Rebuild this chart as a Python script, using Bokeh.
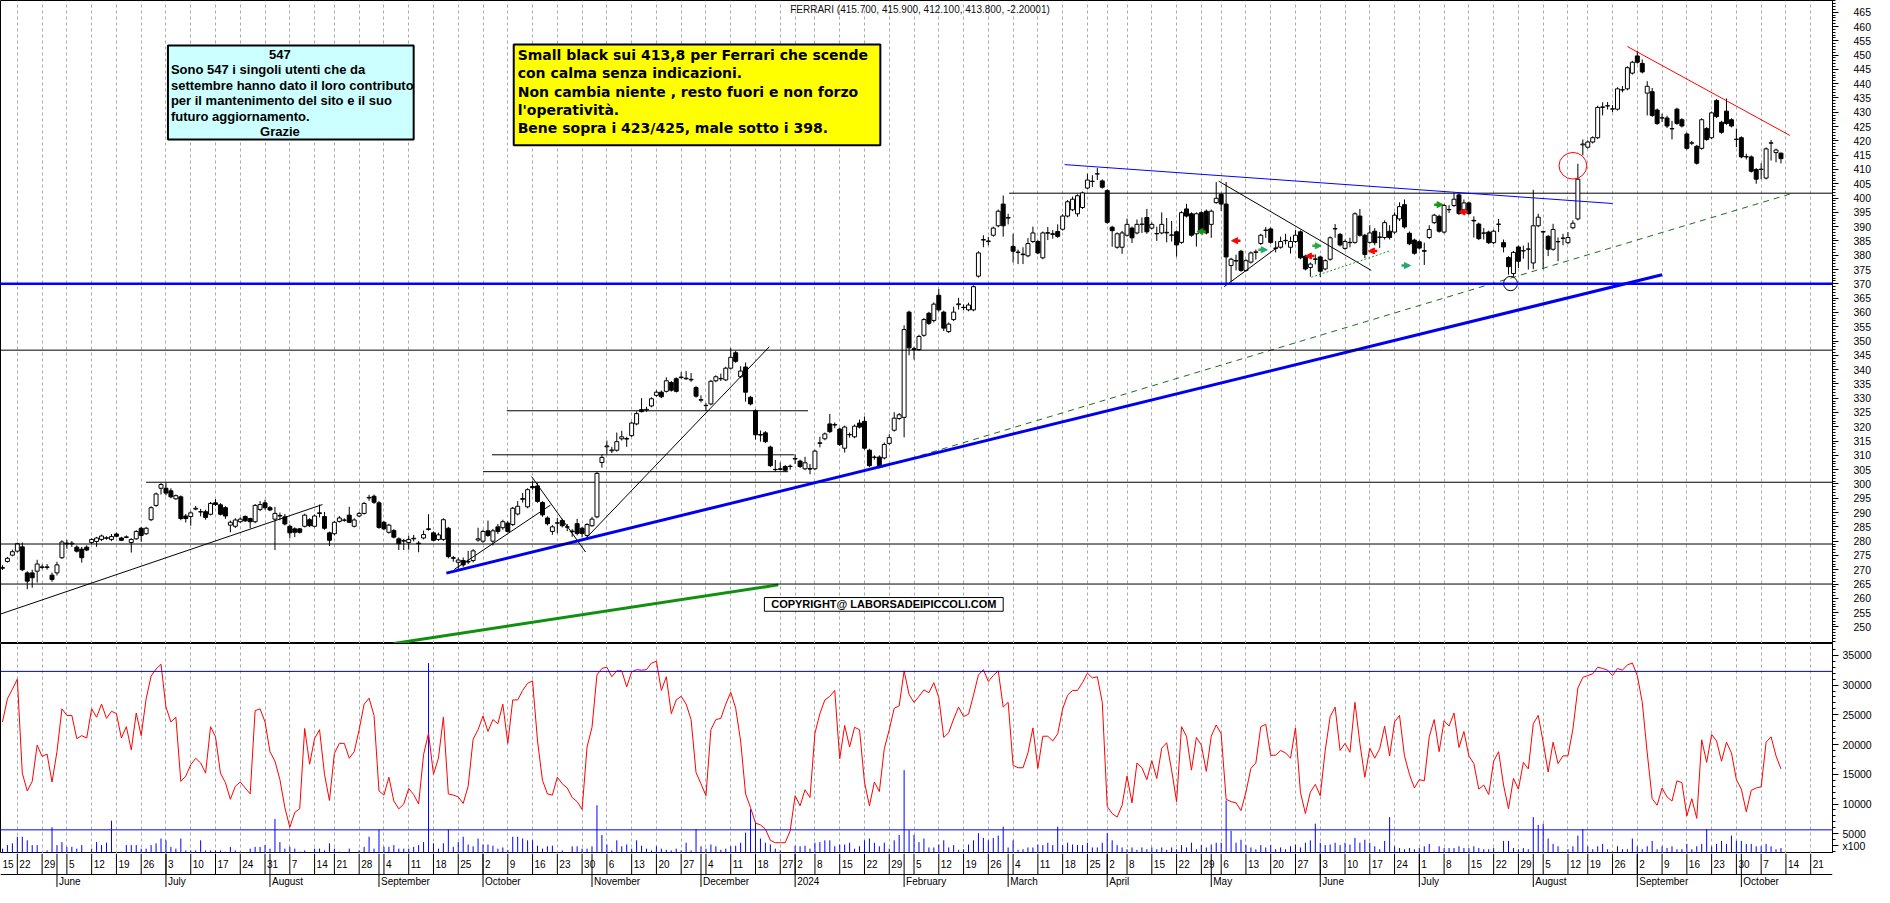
import numpy as np
import pandas as pd
from bokeh.plotting import figure
from bokeh.layouts import column
from bokeh.models import (Range1d, FixedTicker, Grid, Span, Arrow, NormalHead)
from bokeh.core.properties import value
from bokeh.embed import file_html
from bokeh.resources import INLINE

# ---------------------------------------------------------------- data
TITLE = "FERRARI (415.700, 415.900, 412.100, 413.800, -2.20001)"
FIRST_SESSION = "2023-05-15"
AXIS_LAST_DAY = "2024-11-08"
HOLIDAYS = ["2023-08-15", "2023-12-25", "2023-12-26", "2024-01-01",
            "2024-03-29", "2024-04-01", "2024-05-01", "2024-08-15"]
FIRST_CANDLE_SESSION = 2          # 17 May 2023 = third session on the axis

OPEN = [
 270.5,272.9,275.1,276.5,278.0,268.9,268.9,269.5,271.0,270.8,
 268.1,268.9,274.2,279.3,279.0,277.9,277.2,277.9,279.5,279.9,
 280.6,281.0,280.6,282.5,281.1,281.3,279.5,280.8,284.5,282.6,
 287.5,292.5,298.5,298.5,297.6,294.8,295.5,288.8,288.6,291.2,
 290.3,290.3,289.4,293.4,292.7,291.7,285.6,285.2,286.8,288.6,
 287.9,286.8,291.1,293.4,291.7,287.7,289.0,288.5,285.2,284.3,
 284.3,285.2,287.5,285.2,289.9,288.6,282.9,282.6,286.9,287.3,
 289.1,285.2,288.8,289.7,295.1,295.7,293.4,286.6,283.1,283.7,
 280.8,280.0,279.5,280.8,279.3,281.1,284.3,282.9,280.6,280.6,
 284.5,274.2,272.6,273.2,272.7,273.2,280.4,280.0,283.6,280.0,
 285.0,284.7,286.3,285.8,289.5,294.6,292.0,299.1,299.3,293.5,
 288.1,283.4,286.4,287.2,285.0,283.5,286.1,284.5,282.0,285.4,
 288.5,307.5,313.0,311.6,311.8,315.8,315.9,316.9,321.0,326.0,
 325.8,327.3,331.0,332.1,332.4,335.5,336.8,337.2,337.0,336.6,
 333.7,329.3,327.4,328.0,336.1,336.8,336.4,340.5,345.9,337.5,
 340.9,330.3,325.6,317.3,317.9,312.9,305.1,305.3,306.1,306.1,
 308.7,308.0,305.3,305.4,305.3,314.2,315.8,321.0,320.6,319.2,
 312.5,317.2,316.5,321.3,321.9,311.8,309.3,309.4,309.1,314.2,
 318.8,322.9,323.3,360.1,347.3,347.0,352.0,359.7,357.2,366.0,
 360.1,353.3,357.5,362.7,361.8,360.9,360.9,372.7,385.3,384.8,
 387.0,390.3,397.9,393.2,383.1,381.1,380.4,379.8,384.8,384.8,
 379.1,387.7,387.5,388.3,389.1,393.7,395.9,394.5,396.7,403.5,
 405.8,408.4,406.0,402.6,389.8,382.8,382.8,387.0,389.5,387.8,
 390.8,393.2,389.5,387.6,387.8,387.8,387.0,388.2,384.5,396.2,
 394.5,387.5,394.9,395.4,390.8,398.4,401.3,397.9,376.4,378.1,
 381.4,374.7,377.6,381.0,384.1,388.7,389.2,382.4,382.8,385.1,
 382.8,384.8,388.2,379.7,375.7,378.7,379.4,375.2,378.6,389.2,
 387.3,382.4,384.5,384.5,393.7,387.0,384.5,
 388.4,386.2,386.2,388.4,388.1,392.7,397.7,387.7,385.3,384.7,
 381.6,386.2,391.4,393.6,388.1,395.9,397.4,401.1,395.9,398.3,
 392.2,390.9,387.7,388.1,384.4,390.8,384.4,379.2,373.6,382.9,
 381.5,382.1,377.3,390.3,388.1,386.6,382.1,384.8,385.9,384.4,
 389.6,392.7,418.6,417.8,419.6,421.1,431.7,432.2,431.1,431.1,
 437.8,438.2,443.7,449.7,447.1,436.7,437.2,430.8,428.0,428.0,
 424.3,431.1,427.4,422.4,419.2,418.1,417.4,424.3,421.1,434.1,
 426.5,430.4,427.4,420.6,421.1,414.4,414.4,410.0,410.0,407.0,
 419.2,415.9,415.7]

HIGH = [
 271.6,274.5,277.0,279.5,279.5,269.5,270.0,273.5,271.8,272.0,
 269.0,272.8,280.3,280.5,280.0,278.5,278.0,278.5,281.0,281.5,
 282.3,281.7,282.5,283.0,281.5,282.0,281.0,283.8,285.0,285.0,
 292.2,297.0,300.3,300.5,298.5,296.3,296.0,289.5,290.5,292.3,
 291.3,291.0,293.7,294.7,293.3,292.2,287.2,288.0,288.3,289.0,
 288.2,293.0,294.0,294.5,292.3,292.0,290.0,289.5,285.8,284.8,
 284.6,289.6,288.0,289.3,292.8,290.2,283.3,287.0,288.8,288.0,
 292.0,288.0,290.2,293.7,296.2,296.3,294.0,287.0,286.1,284.2,
 281.3,280.8,281.9,282.2,280.0,283.7,289.4,283.4,283.0,288.0,
 285.0,274.8,274.2,274.3,276.6,277.2,284.7,284.0,287.2,284.3,
 286.0,287.5,287.0,292.0,294.0,296.9,298.5,301.0,300.3,294.0,
 288.7,285.6,288.1,287.8,286.0,284.2,287.8,285.0,286.3,288.5,
 304.2,310.3,315.2,313.0,318.0,318.6,316.5,321.8,325.4,330.0,
 327.0,330.3,332.8,332.7,337.3,336.0,337.3,339.1,339.5,338.8,
 334.2,331.0,328.3,336.4,338.0,338.6,341.0,347.5,346.5,341.2,
 342.5,330.8,326.1,318.7,318.5,313.4,308.4,307.5,306.6,306.8,
 310.4,308.5,309.5,307.0,312.0,316.5,318.0,324.5,321.5,319.7,
 320.4,318.0,320.8,322.5,323.6,312.3,310.0,310.0,314.5,317.4,
 325.1,324.8,355.5,360.6,348.0,352.2,358.0,360.2,363.5,368.2,
 360.6,356.5,362.0,365.1,362.8,363.4,369.5,381.4,387.0,386.4,
 390.0,396.0,400.9,394.5,387.5,382.0,382.8,386.0,390.0,385.3,
 388.3,389.9,388.8,390.8,394.3,399.3,400.5,401.3,402.3,408.5,
 408.0,410.5,406.5,403.1,390.3,388.0,388.5,392.8,390.0,392.5,
 393.2,396.2,391.5,390.0,395.0,393.0,392.0,388.7,395.4,398.0,
 395.0,395.0,395.4,396.0,396.0,405.6,401.8,405.6,379.1,380.2,
 381.9,378.6,381.3,382.0,387.5,389.9,389.7,385.0,386.5,387.5,
 386.5,388.8,388.7,380.2,377.5,380.3,379.9,378.6,386.6,390.9,
 387.8,385.5,386.1,395.0,396.2,387.5,390.5,
 389.5,388.1,392.2,390.5,395.0,398.5,399.5,388.3,385.8,385.2,
 384.4,390.5,394.5,394.2,397.9,397.5,401.8,401.6,399.5,398.8,
 393.6,391.4,389.5,388.6,389.0,392.7,385.5,379.7,381.5,383.4,
 383.4,384.4,402.9,394.5,388.6,387.1,391.0,386.2,387.5,388.1,
 392.2,412.0,420.5,420.2,421.6,432.3,433.5,433.6,432.5,438.7,
 439.2,446.1,448.0,451.5,448.5,440.9,438.5,431.3,429.5,428.8,
 427.0,431.6,427.9,422.9,420.0,418.6,427.9,424.8,430.3,434.6,
 427.0,434.8,427.9,424.3,421.6,415.5,414.9,410.5,412.2,417.7,
 420.3,417.3,415.9]

LOW = [
 269.9,272.5,274.7,276.0,269.5,263.2,263.7,265.5,270.2,270.0,
 265.8,268.0,273.8,277.3,278.0,276.0,272.5,276.5,279.0,278.0,
 280.0,280.5,280.0,281.3,280.0,281.0,276.0,280.5,279.8,282.2,
 287.0,292.0,296.3,296.0,295.0,294.5,287.3,286.5,285.4,290.8,
 288.7,287.5,289.0,292.3,289.0,287.8,283.1,284.6,286.4,286.7,
 284.5,286.3,290.5,291.0,290.5,276.9,287.3,285.5,281.0,281.4,
 282.7,284.8,285.0,284.8,288.3,284.0,278.3,282.0,286.5,286.8,
 286.3,284.8,288.4,289.3,294.1,293.0,284.3,283.8,282.6,281.0,
 276.9,276.9,277.0,279.9,276.1,280.6,283.7,279.9,280.1,280.1,
 274.0,272.8,270.0,271.0,272.0,272.6,279.8,279.4,281.5,278.5,
 282.5,284.0,283.0,285.3,289.0,293.5,291.5,298.0,293.4,288.5,
 285.5,282.2,282.7,284.8,283.5,281.5,282.0,281.3,281.5,285.0,
 288.0,305.7,310.4,310.8,311.3,315.2,313.0,316.4,320.5,325.0,
 325.2,326.8,330.5,330.0,332.0,332.3,332.0,336.8,336.4,335.7,
 330.2,328.5,325.5,327.5,335.6,336.0,336.0,340.0,342.4,337.0,
 328.8,327.5,315.5,314.8,314.3,305.9,304.4,304.7,304.3,305.0,
 307.0,305.6,304.8,303.4,304.8,312.8,315.3,317.8,319.5,313.3,
 311.0,316.2,316.0,319.4,312.0,305.9,308.5,305.9,308.6,313.7,
 318.3,322.4,316.3,345.0,343.5,346.5,351.5,355.6,356.5,360.3,
 353.5,352.8,357.0,361.0,360.8,360.4,360.4,372.2,382.8,383.5,
 386.5,389.8,386.5,390.8,377.5,376.9,376.9,379.3,384.3,380.3,
 378.6,385.3,385.8,386.1,388.6,393.2,395.4,393.5,396.2,403.0,
 403.8,406.3,403.3,391.0,383.0,382.3,380.5,386.5,384.3,387.3,
 387.8,387.5,389.0,385.0,387.3,384.5,384.8,379.5,384.0,393.2,
 386.5,383.0,387.5,387.3,386.1,398.0,395.5,370.0,370.5,374.7,
 374.2,374.2,377.1,378.5,383.6,386.1,384.0,381.0,382.3,383.8,
 380.6,384.3,378.6,374.7,372.5,376.8,372.4,374.7,378.1,386.1,
 383.1,381.9,382.8,384.0,386.5,379.0,384.0,
 383.5,382.5,385.5,385.5,387.5,392.0,389.3,383.5,380.2,382.0,
 376.6,385.7,390.9,387.9,387.6,394.8,396.9,394.1,395.4,394.1,
 386.2,385.3,385.5,383.9,383.9,388.1,381.0,373.2,372.5,375.5,
 378.8,375.0,375.1,389.8,375.1,379.7,381.6,377.9,383.5,383.9,
 389.1,392.2,415.0,417.3,419.1,420.6,428.9,431.0,430.0,430.6,
 437.0,437.7,443.2,447.0,443.6,428.9,428.4,425.6,426.6,424.5,
 420.5,425.6,424.7,416.9,418.5,411.7,416.9,420.0,420.6,428.0,
 422.5,425.6,424.7,417.8,413.9,413.5,408.9,405.0,406.6,406.5,
 413.1,412.5,412.1]

CLOSE = [
 270.8,274.0,276.3,279.1,270.0,266.0,267.2,272.0,270.8,271.0,
 266.6,271.7,279.7,279.0,279.3,276.5,274.2,276.9,280.6,281.1,
 281.8,281.2,281.6,281.7,280.3,281.5,280.6,283.4,282.0,284.5,
 291.7,296.5,299.8,296.8,295.5,295.9,287.9,287.9,289.9,291.5,
 290.2,288.3,293.2,292.8,289.4,288.8,286.6,287.4,287.7,287.1,
 286.8,292.5,292.8,291.7,290.9,289.7,288.8,286.0,282.9,283.1,
 283.1,289.1,285.4,288.8,289.7,284.5,280.3,286.6,288.1,287.4,
 286.6,287.4,289.7,293.2,295.3,293.6,284.8,284.3,285.6,281.4,
 279.1,280.2,280.6,281.0,279.1,282.3,284.1,280.3,282.2,287.5,
 274.6,274.0,273.4,271.7,272.9,276.6,280.8,283.4,282.0,283.6,
 283.4,286.8,283.4,291.5,292.2,294.9,298.0,298.7,293.9,289.2,
 286.1,285.0,286.3,285.4,284.9,283.3,282.7,282.7,285.8,287.7,
 303.7,309.3,313.3,311.9,314.8,316.5,315.7,321.3,324.6,325.3,
 326.1,329.8,332.1,330.5,336.1,332.8,332.4,337.4,336.8,336.4,
 330.7,329.5,327.5,335.9,337.5,336.9,340.5,344.3,342.9,339.5,
 332.1,328.0,317.2,317.1,314.8,306.4,305.0,305.1,304.8,306.2,
 308.9,306.1,307.4,305.2,311.5,314.4,317.5,318.3,320.8,313.8,
 319.9,317.3,320.2,319.9,312.5,306.4,309.4,306.4,313.8,316.2,
 323.0,324.2,354.0,347.6,347.0,351.6,357.5,356.2,362.9,360.9,
 354.5,355.9,360.1,363.0,361.7,362.6,369.0,380.8,385.5,385.0,
 389.5,395.4,390.3,393.0,381.4,381.0,380.2,384.1,387.8,380.8,
 387.8,387.9,387.3,386.6,393.7,398.7,399.6,400.8,401.8,406.3,
 405.9,408.5,403.8,391.5,388.6,387.5,387.8,390.8,386.1,390.8,
 390.9,388.2,390.8,387.5,390.8,388.0,387.1,383.6,394.9,393.7,
 387.0,394.5,388.7,387.8,395.4,399.9,397.9,379.4,378.6,378.0,
 374.7,378.1,380.8,381.2,387.0,388.8,384.5,382.5,384.8,385.2,
 384.8,387.0,379.1,375.2,376.9,378.6,374.4,378.1,386.1,389.3,
 383.6,384.8,384.4,394.5,387.0,380.3,387.8,
 384.4,386.4,391.4,386.2,394.0,397.0,389.9,384.0,380.7,382.5,
 381.4,389.0,394.0,388.4,397.4,396.0,399.6,394.6,398.3,394.6,
 392.0,385.8,387.8,384.4,388.4,390.9,382.9,376.0,381.0,377.9,
 381.6,382.2,390.3,393.3,388.3,382.1,389.0,384.7,386.0,386.2,
 391.2,406.6,418.9,419.6,421.1,431.7,431.9,432.3,431.2,438.2,
 437.9,445.6,447.5,447.5,444.1,439.1,428.9,426.1,428.1,425.2,
 424.2,426.1,425.2,417.4,419.3,412.2,427.4,420.5,429.8,428.5,
 423.0,426.1,425.2,420.5,414.4,414.5,409.4,406.6,410.1,417.2,
 419.3,416.8,413.8]

# oscillator (red line), in thousands of the lower-panel scale
OSC_K = [
 23.8,27.7,29.3,31.0,15.2,12.2,13.8,19.9,18.0,18.4,
 13.7,18.8,26.0,24.9,24.9,21.0,21.5,21.1,26.0,24.6,
 26.8,24.4,25.6,25.2,21.1,23.0,19.1,25.3,21.5,27.7,
 31.5,32.7,33.5,26.3,23.8,24.6,13.8,14.7,16.6,17.7,
 16.9,15.2,23.0,21.3,15.2,13.6,10.8,13.0,13.7,12.7,
 11.7,25.7,26.0,23.8,18.8,17.2,14.1,9.4,6.1,8.6,
 9.2,22.7,16.7,21.0,22.5,15.0,10.6,18.5,20.2,20.2,
 17.7,18.8,22.5,26.8,27.8,24.9,12.2,11.5,14.5,10.5,
 9.2,10.0,12.6,11.6,10.0,18.3,21.9,15.0,17.7,24.6,
 11.7,11.5,11.2,10.1,13.0,20.9,22.5,24.8,22.2,24.2,
 23.5,26.8,20.2,27.5,27.5,29.1,30.3,30.7,20.6,14.0,
 11.7,11.5,14.5,13.4,12.7,11.1,10.4,9.1,19.6,22.9,
 31.7,32.8,33.0,31.4,32.4,32.4,29.7,32.2,32.6,32.5,
 32.6,33.7,34.0,29.1,31.4,25.2,27.5,28.1,26.8,24.2,
 15.3,13.4,11.4,22.5,24.2,24.4,26.8,28.8,26.1,20.6,
 11.7,9.4,6.8,6.5,5.8,3.9,3.5,3.5,3.5,5.5,
 11.4,9.7,12.4,11.1,21.9,25.2,27.5,28.1,29.1,17.6,
 23.2,19.6,22.9,22.5,13.7,9.7,13.7,12.1,19.3,22.5,
 26.1,26.5,32.4,28.4,27.1,28.1,29.2,28.7,30.4,27.9,
 21.2,22.0,24.3,26.3,24.7,25.1,28.3,31.7,32.6,30.6,
 31.6,32.4,26.3,27.1,16.5,16.1,16.1,18.6,22.8,16.0,
 21.4,21.4,20.6,21.8,26.0,28.3,29.1,29.1,30.4,32.0,
 31.2,31.4,27.1,9.6,8.4,7.8,9.8,14.7,10.2,16.9,
 16.1,14.1,17.3,14.3,19.4,20.3,15.7,10.4,23.0,21.4,
 15.7,21.2,19.9,15.5,21.4,23.3,21.8,10.8,10.4,10.2,
 8.9,12.0,16.0,16.9,23.0,23.4,18.2,18.2,19.0,18.6,
 17.7,22.8,12.0,8.4,12.0,13.3,11.4,19.0,24.7,26.3,
 19.0,20.2,18.7,27.1,20.2,14.5,19.4,
 17.7,19.3,23.1,18.1,23.8,24.9,18.1,15.0,12.7,14.1,
 13.9,21.3,24.2,18.8,24.0,23.1,25.3,19.5,22.2,18.1,
 16.8,12.5,13.2,11.6,17.2,18.8,13.2,9.2,14.3,12.5,
 17.0,15.9,23.5,24.9,20.4,15.4,20.4,16.8,18.1,18.1,
 22.6,29.5,31.3,31.6,31.9,33.0,32.8,32.5,31.6,32.8,
 32.5,33.4,33.7,31.6,27.1,18.6,10.9,9.8,12.7,11.2,
 10.5,13.9,13.6,8.0,10.9,7.6,20.8,17.0,21.7,20.6,
 17.2,20.4,18.6,14.1,12.5,8.7,12.3,12.7,12.9,20.4,
 21.3,18.1,15.9]

# volume (x100), in thousands of the lower-panel scale
VOL_K = [
 2.5,3.1,3.4,4.5,4.5,3.9,3.1,3.1,1.8,2.2,
 6.1,3.1,3.6,2.8,2.8,2.5,3.1,1.8,2.5,3.6,
 3.1,3.5,7.2,1.5,2.0,3.1,3.1,3.1,2.5,2.5,
 3.1,3.4,4.2,3.9,2.8,2.5,4.2,2.2,2.2,2.2,
 3.9,2.2,2.2,2.2,2.2,2.0,2.8,2.2,2.0,1.6,
 2.5,2.8,2.8,3.1,2.5,7.5,3.6,2.5,2.8,2.5,
 2.0,2.2,1.6,2.5,2.5,2.2,3.4,2.5,2.0,1.6,
 2.5,1.8,2.2,2.8,4.5,2.5,5.7,2.8,2.8,3.1,
 2.5,2.5,2.5,2.8,3.1,3.6,33.7,3.4,2.5,3.4,
 5.7,2.8,3.6,4.5,3.2,2.9,4.2,3.2,3.2,3.0,
 2.5,2.7,2.3,4.5,4.5,4.2,3.9,3.9,3.0,2.5,
 2.9,3.0,1.9,2.2,1.9,2.9,2.9,2.5,2.5,2.9,
 9.8,4.8,3.2,2.2,3.9,2.9,3.2,2.5,3.9,3.0,
 2.5,2.2,2.9,2.5,2.3,2.2,2.5,2.2,3.5,2.2,
 5.8,2.9,2.5,3.2,2.9,2.3,2.5,2.9,3.0,3.5,
 5.2,9.1,6.8,4.2,3.5,3.2,2.5,2.2,1.7,1.9,
 3.0,2.9,3.0,2.5,3.5,3.6,3.9,3.9,2.9,3.2,
 3.2,3.5,2.5,2.9,3.9,4.2,3.5,2.9,3.5,2.5,
 3.9,4.8,15.7,5.6,4.8,3.6,4.2,2.7,2.7,3.2,
 3.9,2.7,3.1,2.3,2.4,3.2,3.9,5.1,4.3,3.9,
 4.3,4.7,6.2,2.7,3.9,2.3,2.4,2.7,2.7,3.2,
 3.1,3.5,3.1,6.2,3.1,3.5,3.2,3.1,3.1,3.5,
 2.7,2.7,3.5,5.1,3.9,3.1,2.7,2.4,2.7,2.3,
 2.7,2.4,2.7,2.4,2.7,2.3,2.7,2.4,3.1,2.7,
 3.5,2.4,3.1,2.7,3.2,3.5,3.5,10.6,5.5,3.5,
 4.0,3.1,2.7,2.4,3.1,2.7,3.1,2.4,2.7,2.4,
 2.9,3.2,2.7,3.5,3.9,6.7,3.5,3.1,3.2,3.5,
 3.1,3.5,3.2,4.3,3.5,4.0,3.5,
 2.9,2.4,3.8,7.8,2.9,2.6,2.4,2.6,2.4,2.6,
 2.9,3.3,2.0,2.9,2.6,2.6,2.6,2.9,2.6,2.6,
 2.9,2.6,2.4,2.4,2.6,2.0,3.8,3.8,2.6,2.4,
 2.6,2.4,7.8,6.5,6.7,4.2,3.3,2.9,2.0,2.4,
 2.9,4.7,5.8,2.9,2.4,2.9,3.3,2.4,2.0,2.9,
 2.4,2.4,4.2,2.9,2.4,2.9,3.8,2.4,2.9,2.6,
 2.9,2.4,2.4,3.3,2.4,2.9,3.3,5.8,2.9,3.3,
 3.8,3.3,4.7,3.8,3.8,3.3,3.3,2.9,2.9,3.3,
 2.9,2.4,2.6]

# axis ticks
PRICE_TICKS = list(range(250, 466, 5))
PRICE_MINOR = list(range(245, 470))
LOWER_TICKS = [3000, 5000, 10000, 15000, 20000, 25000, 30000, 35000]
LOWER_MINOR = list(range(2000, 37000, 1000))
LOWER_OVERRIDES = {3000: "x100"}

# oscillator reference levels (lower panel)
OSC_LEVELS = [32300, 5660]

# drawn levels: (price, from session, colour, width)   None = whole width
LEVELS = [(370.0, None, "#0000FF", 2.5), (346.8, None, "black", 1),
          (300.6, 31.0, "black", 1), (279.0, None, "black", 1),
          (265.0, None, "black", 1), (401.7, 205.2, "black", 1)]
# short levels: (price, from session, to session)
SHORT_LEVELS = [(325.6, 103.8, 164.6), (310.2, 100.8, 161.8), (304.3, 99.0, 160.6)]
# trend lines: (x0, y0, x1, y1, colour, width, dash)
TRENDS = [
    (1.6, 254.5, 66.6, 292.8, "black", 1, "solid"),
    (93.2, 270.1, 112.6, 292.6, "black", 1, "solid"),
    (108.8, 302.6, 119.7, 276.2, "black", 1, "solid"),
    (119.6, 280.7, 156.8, 348.0, "black", 1, "solid"),
    (247.5, 405.9, 278.3, 374.7, "black", 1, "solid"),
    (248.6, 369.0, 259.6, 383.1, "black", 1, "solid"),
    (81.0, 244.2, 158.6, 264.7, "#109010", 3, "solid"),
    (178.8, 305.5, 362.8, 401.4, "#1A6E1A", 1, "6 5"),
    (266.2, 372.3, 282.0, 381.5, "#20A020", 1, "2 2"),
    (216.4, 411.7, 327.0, 398.1, "#0000FF", 1, "solid"),
    (330.0, 453.0, 362.8, 421.9, "#FF0000", 1, "solid"),
    (91.6, 268.8, 337.0, 373.2, "#0000EE", 3, "solid"),
]
# circles: (x, price, width in sessions, height in price, colour)
CIRCLES = [(319.0, 411.3, 5.6, 9.3, "#FF0000"), (306.4, 370.1, 2.8, 5.0, "black")]
# signal arrows: (x, price, direction, colour)
ARROWS = [(244.0, 388.3, -1, "#119911"), (251.0, 385.1, -1, "#FF0000"),
          (256.4, 381.9, 1, "#22AA66"), (265.9, 379.7, -1, "#FF0000"),
          (267.3, 383.3, 1, "#22AA44"), (278.6, 381.5, -1, "#FF0000"),
          (285.3, 376.4, 1, "#22AA66"), (291.9, 397.7, 1, "#119911"),
          (296.9, 395.1, -1, "#FF0000")]

NOTE_CYAN = ["547", "Sono 547 i singoli utenti che da",
             "settembre hanno dato il loro contributo",
             "per il mantenimento  del sito e il suo",
             "futuro aggiornamento.", "Grazie"]
NOTE_YELLOW = ["Small black sui 413,8 per Ferrari che scende",
               "con calma senza indicazioni.",
               "Non cambia niente , resto fuori e non forzo",
               "l'operatività.",
               "Bene sopra i 423/425, male sotto i 398."]
COPYRIGHT = "COPYRIGHT@ LABORSADEIPICCOLI.COM"

for arr in (OPEN, HIGH, LOW, CLOSE, OSC_K, VOL_K):
    assert len(arr) == 360, len(arr)

# ---------------------------------------------------------------- sessions / axis
X_START, X_END = 1.6, 371.4
days = pd.bdate_range(FIRST_SESSION, AXIS_LAST_DAY)
days = days[~days.isin(pd.to_datetime(HOLIDAYS))]
pos = pd.Series(np.arange(len(days)), index=days)
week_first = pos.groupby(days.to_period("W-SUN")).first()
week_pos = [int(v) for v in week_first.values if v < X_END - 1]
week_lab = [str(days[v].day) for v in week_pos]
week_txt_x = [max(v, X_START) for v in week_pos]
month_first = pos.groupby(days.to_period("M")).first().iloc[1:]
month_pos = [int(v) for v in month_first.values if v < X_END - 1]
month_lab = [str(days[v].year) if days[v].month == 1 else days[v].strftime("%B")
             for v in month_pos]

n = len(CLOSE)
xs = np.arange(FIRST_CANDLE_SESSION, FIRST_CANDLE_SESSION + n)
O, H, L, C = map(np.array, (OPEN, HIGH, LOW, CLOSE))
up = C >= O

FONT = "Liberation Sans"
W = 1874
PRICE_H, IND_H, STRIP_H = 643, 210, 34
x_range = Range1d(X_START, X_END)


def make_fig(h, y_range, ticks, minor, standoff):
    f = figure(width=W, height=h, x_range=x_range, y_range=y_range,
               output_backend="svg", toolbar_location=None,
               x_axis_location=None, y_axis_location="right",
               min_border_left=0, min_border_right=41, min_border_top=0,
               min_border_bottom=0)
    f.grid.visible = False
    f.outline_line_color = "black"
    f.outline_line_width = 1
    f.outline_line_alpha = 1
    f.add_layout(Grid(dimension=0, ticker=FixedTicker(ticks=week_pos),
                      grid_line_color="#A9A9A9", grid_line_dash="3 3",
                      grid_line_width=1))
    ax = f.yaxis[0]
    ax.ticker = FixedTicker(ticks=ticks, minor_ticks=minor)
    ax.axis_line_color = "black"
    ax.major_tick_out = 6
    ax.major_tick_in = 0
    ax.minor_tick_out = 3
    ax.minor_tick_in = 0
    ax.major_tick_line_color = "black"
    ax.minor_tick_line_color = "black"
    ax.major_label_standoff = standoff
    ax.major_label_text_font = FONT
    ax.major_label_text_font_size = "10.5px"
    ax.major_label_text_color = "black"
    return f


def px_x(px):          # reference pixel column -> session position
    return (px + 8) / 5.0


def px_y(py):          # reference pixel row -> price
    return 465 - (py - 12) / 2.921


# ---------------------------------------------------------------- price panel
p = make_fig(PRICE_H, Range1d(244.2, 469.1), PRICE_TICKS, PRICE_MINOR, 15)

for price, x0, col, lw in LEVELS:
    if x0 is None:
        p.add_layout(Span(location=price, dimension="width", line_color=col,
                          line_width=lw))
    else:
        p.segment(x0=[x0], y0=[price], x1=[X_END], y1=[price], line_color=col,
                  line_width=lw)
p.segment(x0=[s[1] for s in SHORT_LEVELS], y0=[s[0] for s in SHORT_LEVELS],
          x1=[s[2] for s in SHORT_LEVELS], y1=[s[0] for s in SHORT_LEVELS],
          line_color="black", line_width=1)

p.segment(x0=xs, y0=L, x1=xs, y1=H, line_color="black", line_width=1)
p.vbar(x=xs[up], width=0.8, top=C[up], bottom=O[up], fill_color="white",
       line_color="black", line_width=1)
p.vbar(x=xs[~up], width=0.8, top=O[~up], bottom=C[~up], fill_color="black",
       line_color="black", line_width=1)

for x0, y0, x1, y1, col, lw, dash in TRENDS:
    p.line([x0, x1], [y0, y1], line_color=col, line_width=lw, line_dash=dash)

for cx, cy, cw, ch, col in CIRCLES:
    p.ellipse(x=[cx], y=[cy], width=[cw], height=[ch], fill_color=None,
              line_color=col, line_width=1)

for ax_, ay, d, col in ARROWS:
    p.add_layout(Arrow(end=NormalHead(size=6, fill_color=col, line_color=col),
                       x_start=ax_ - 0.9 * d, y_start=ay, x_end=ax_ + 0.9 * d,
                       y_end=ay, line_color=col, line_width=2.5))

# cyan note
p.quad(left=[px_x(169)], right=[px_x(417)], top=[px_y(46)], bottom=[px_y(142)],
       fill_color="#CCFFFF", line_color="black", line_width=2)
cy_rows = [55, 70.5, 86.5, 102.5, 118.5, 134]
for i, (t, r) in enumerate(zip(NOTE_CYAN, cy_rows)):
    centred = i in (0, len(NOTE_CYAN) - 1)
    p.text(x=[px_x(282 if centred else 172)], y=[px_y(r)], text=[t],
           text_align="center" if centred else "left", text_baseline="middle",
           text_font=value(FONT), text_font_style="bold",
           text_font_size="13px", text_color="black")

# yellow note
p.quad(left=[px_x(518)], right=[px_x(888)], top=[px_y(45)], bottom=[px_y(148)],
       fill_color="#FFFF00", line_color="black", line_width=2)
for t, r in zip(NOTE_YELLOW, [56, 74.5, 93, 111.5, 130]):
    p.text(x=[px_x(522)], y=[px_y(r)], text=[t], text_align="left",
           text_baseline="middle", text_font=value("DejaVu Sans"),
           text_font_style="bold", text_font_size="14px", text_color="black")

# copyright
p.quad(left=[px_x(771)], right=[px_x(1012)], top=[px_y(610)], bottom=[px_y(624)],
       fill_color="white", line_color="black", line_width=1)
p.text(x=[px_x(891.5)], y=[px_y(617)], text=[COPYRIGHT], text_align="center",
       text_baseline="middle", text_font=value(FONT), text_font_style="bold",
       text_font_size="11px", text_color="black")

# title
p.text(x=[px_x(797)], y=[px_y(9)], text=[TITLE], text_align="left",
       text_baseline="middle", text_font=value(FONT), text_font_size="10px",
       text_color="#111111")

# ---------------------------------------------------------------- indicator panel
q = make_fig(IND_H, Range1d(1685, 36990), LOWER_TICKS, LOWER_MINOR, 4)
q.yaxis[0].major_label_overrides = LOWER_OVERRIDES
vol = np.array(VOL_K) * 1000
osc = np.array(OSC_K) * 1000
q.segment(x0=xs, y0=np.zeros(n), x1=xs, y1=vol, line_color="#0000FF", line_width=1)
for lev in OSC_LEVELS:
    q.add_layout(Span(location=lev, dimension="width", line_color="#0000FF",
                      line_width=1))
q.line(xs, osc, line_color="#FF0000", line_width=1)

# ---------------------------------------------------------------- date strip
s = figure(width=W, height=STRIP_H, x_range=x_range, y_range=Range1d(0, 34),
           output_backend="svg", toolbar_location=None, x_axis_location=None,
           y_axis_location=None, min_border_left=0, min_border_right=41,
           min_border_top=0, min_border_bottom=0)
s.grid.visible = False
s.outline_line_color = None
s.segment(x0=week_pos, y0=[34] * len(week_pos), x1=week_pos, y1=[13] * len(week_pos),
          line_color="black", line_width=1)
s.text(x=week_txt_x, y=[23.5] * len(week_pos), text=week_lab, x_offset=2,
       text_align="left", text_baseline="middle", text_font=value(FONT),
       text_font_size="10px", text_color="black")
s.add_layout(Span(location=13, dimension="width", line_color="black", line_width=1))
s.segment(x0=month_pos, y0=[34] * len(month_pos), x1=month_pos,
          y1=[0] * len(month_pos), line_color="black", line_width=1)
s.text(x=month_pos, y=[6.5] * len(month_pos), text=month_lab, x_offset=2,
       text_align="left", text_baseline="middle", text_font=value(FONT),
       text_font_size="10px", text_color="black")

layout = column(p, q, s, spacing=0)
open("out.html", "w").write(file_html(layout, INLINE, title="Ferrari"))
